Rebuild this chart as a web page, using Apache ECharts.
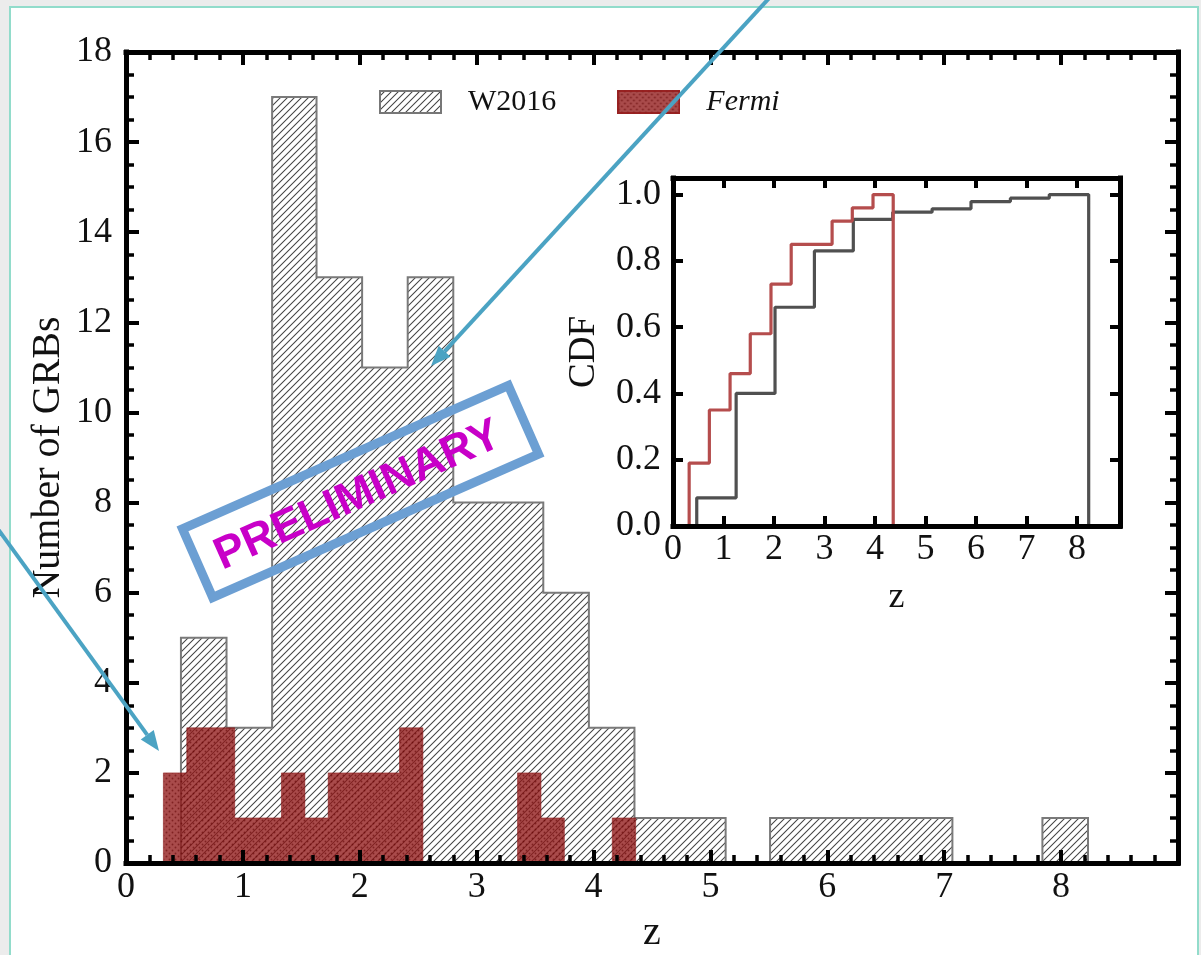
<!DOCTYPE html>
<html>
<head>
<meta charset="utf-8">
<script src="https://cdn.jsdelivr.net/npm/echarts@6/dist/echarts.min.js"></script>
<style>
html,body{margin:0;padding:0;background:#ececec;}
#chart{width:1201px;height:955px;}
</style>
</head>
<body>
<div id="chart"></div>
<script>
// ---------- data ----------
// Main histogram: bin edges (z) and counts
const w2016Edges  = [0.47,0.86,1.25,1.63,2.02,2.41,2.80,3.19,3.57,3.96,4.35,4.74,5.13,5.51,5.90,6.29,6.68,7.07,7.45,7.84,8.23];
const w2016Counts = [5,3,17,13,11,13,8,8,6,3,1,1,0,1,1,1,1,0,0,1];
const fermiEdges  = [0.32,0.52,0.72,0.93,1.13,1.33,1.53,1.73,1.94,2.14,2.34,2.54,2.74,2.95,3.15,3.35,3.55,3.75,3.96,4.16,4.36];
const fermiCounts = [2,3,3,1,1,2,1,2,2,2,3,0,0,0,0,2,1,0,0,1];
// Inset: cumulative distributions
const w2016CdfEdges = [0.47,1.25,2.02,2.80,3.57,4.35,5.13,5.90,6.68,7.45,8.23];
const w2016Cdf      = [0.085,0.40,0.66,0.83,0.925,0.947,0.957,0.979,0.989,1.00];
const fermiCdfEdges = [0.32,0.72,1.13,1.53,1.94,2.34,2.74,3.15,3.55,3.96,4.36];
const fermiCdf      = [0.19,0.35,0.46,0.58,0.73,0.85,0.85,0.92,0.96,1.00];
const seriesNames = ['W2016', 'Fermi'];
const mainX = {min: 0, max: 9, interval: 1};
const mainY = {min: 0, max: 18, interval: 2};
const insetX = {min: 0, max: 8.85, interval: 1};
const insetY = {min: 0, max: 1.05, interval: 0.2};

// ---------- helpers ----------
function stepPath(edges, vals) {
  const pts = [[edges[0], 0]];
  for (let i = 0; i < vals.length; i++) {
    pts.push([edges[i], vals[i]]);
    pts.push([edges[i + 1], vals[i]]);
  }
  pts.push([edges[edges.length - 1], 0]);
  return pts;
}
function hatchTile() {
  const s = 7, c = document.createElement('canvas');
  c.width = s; c.height = s;
  const g = c.getContext('2d');
  g.strokeStyle = '#444'; g.lineWidth = 1.05;
  g.beginPath();
  g.moveTo(0, s); g.lineTo(s, 0);
  g.moveTo(-1, 1); g.lineTo(1, -1);
  g.moveTo(s - 1, s + 1); g.lineTo(s + 1, s - 1);
  g.stroke();
  return c;
}
function dotTile() {
  const s = 6, c = document.createElement('canvas');
  c.width = s; c.height = s;
  const g = c.getContext('2d');
  g.fillStyle = 'rgba(145,24,24,0.78)';
  g.fillRect(0, 0, s, s);
  g.fillStyle = 'rgba(95,0,0,0.55)';
  g.beginPath(); g.arc(1.5, 1.5, 0.95, 0, Math.PI * 2); g.fill();
  g.beginPath(); g.arc(4.5, 4.5, 0.95, 0, Math.PI * 2); g.fill();
  return c;
}
const hatchC = hatchTile();
const dotC = dotTile();
function iconW2016() {
  const c = document.createElement('canvas'); c.width = 63; c.height = 24;
  const g = c.getContext('2d');
  g.fillStyle = '#fff'; g.fillRect(0, 0, 63, 24);
  g.fillStyle = g.createPattern(hatchC, 'repeat'); g.fillRect(0, 0, 63, 24);
  g.strokeStyle = '#777'; g.lineWidth = 2; g.strokeRect(1, 1, 61, 22);
  return c.toDataURL();
}
function iconFermi() {
  const c = document.createElement('canvas'); c.width = 63; c.height = 24;
  const g = c.getContext('2d');
  g.fillStyle = '#fff'; g.fillRect(0, 0, 63, 24);
  g.fillStyle = g.createPattern(dotC, 'repeat'); g.fillRect(0, 0, 63, 24);
  g.strokeStyle = 'rgba(150,30,30,0.9)'; g.lineWidth = 2; g.strokeRect(1, 1, 61, 22);
  return c.toDataURL();
}
function arrow(x1, y1, x2, y2, color) {
  const dx = x2 - x1, dy = y2 - y1, L = Math.hypot(dx, dy);
  const ux = dx / L, uy = dy / L, px = -uy, py = ux;
  const hl = 20, hw = 8;
  const bx = x2 - ux * hl, by = y2 - uy * hl;
  return [
    {type: 'line', z: 100, shape: {x1: x1, y1: y1, x2: bx, y2: by}, style: {stroke: color, lineWidth: 4}},
    {type: 'polygon', z: 100, shape: {points: [[x2, y2], [bx + px * hw, by + py * hw], [bx - px * hw, by - py * hw]]}, style: {fill: color}}
  ];
}

const serif = 'Liberation Serif';
const black = '#000';
function frameAxis(extra) {
  return Object.assign({
    type: 'value',
    z: 10,
    splitLine: {show: false},
    axisLine: {show: true, onZero: false, lineStyle: {color: black, width: 5, cap: 'square'}},
    axisTick: {show: true, inside: true, length: 13, lineStyle: {color: black, width: 4}},
    axisLabel: {show: false},
    nameMoveOverlap: false
  }, extra);
}
const mainLabel = {show: true, fontFamily: serif, fontSize: 36, color: '#111'};

const chart = echarts.init(document.getElementById('chart'), null, {renderer: 'canvas'});
const option = {
  animation: false,
  backgroundColor: 'transparent',
  grid: [
    {left: 126, top: 52, width: 1052, height: 811, show: false, containLabel: false, outerBoundsMode: 'none'},
    {left: 673, top: 178, width: 447, height: 348, show: true, backgroundColor: '#fff', borderWidth: 0,
      containLabel: false, outerBoundsMode: 'none'}
  ],
  legend: {
    left: 374, top: 82, itemWidth: 63, itemHeight: 24, itemGap: 61,
    selectedMode: false,
    data: [
      {name: seriesNames[0], icon: 'image://' + iconW2016()},
      {name: seriesNames[1], icon: 'image://' + iconFermi()}
    ],
    formatter: n => n === 'Fermi' ? '{it|' + n + '}' : '{n|' + n + '}',
    textStyle: {
      fontFamily: serif, fontSize: 30, color: '#111',
      rich: {
        n: {fontFamily: serif, fontSize: 30, color: '#111', padding: [0, 0, 0, 21]},
        it: {fontFamily: serif, fontSize: 30, color: '#111', fontStyle: 'italic', padding: [0, 0, 0, 21]}
      }
    }
  },
  xAxis: [
    frameAxis({gridIndex: 0, position: 'bottom', min: mainX.min, max: mainX.max, interval: mainX.interval,
      minorTick: {show: true, splitNumber: 5, length: 8, lineStyle: {color: black, width: 3.5}},
      axisLabel: Object.assign({}, mainLabel, {margin: 7, formatter: v => v >= mainX.max ? '' : String(v)}),
      name: 'z', nameLocation: 'middle', nameGap: 50,
      nameTextStyle: {fontFamily: serif, fontSize: 40, color: '#111'}}),
    frameAxis({gridIndex: 0, position: 'top', min: mainX.min, max: mainX.max, interval: mainX.interval,
      minorTick: {show: true, splitNumber: 5, length: 8, lineStyle: {color: black, width: 3.5}}}),
    frameAxis({gridIndex: 1, position: 'bottom', min: insetX.min, max: insetX.max, interval: insetX.interval,
      axisTick: {show: true, inside: true, length: 10, lineStyle: {color: black, width: 4}},
      axisLabel: {show: true, fontFamily: serif, fontSize: 36, color: '#111', margin: 6,
        formatter: v => Number.isInteger(v) ? String(v) : ''},
      name: 'z', nameLocation: 'middle', nameGap: 54,
      nameTextStyle: {fontFamily: serif, fontSize: 36, color: '#111'}}),
    frameAxis({gridIndex: 1, position: 'top', min: insetX.min, max: insetX.max, interval: insetX.interval,
      axisTick: {show: true, inside: true, length: 10, lineStyle: {color: black, width: 4}}})
  ],
  yAxis: [
    frameAxis({gridIndex: 0, position: 'left', min: mainY.min, max: mainY.max, interval: mainY.interval,
      minorTick: {show: true, splitNumber: 4, length: 8, lineStyle: {color: black, width: 3.5}},
      axisLabel: Object.assign({}, mainLabel, {margin: 14}),
      name: 'Number of GRBs', nameLocation: 'middle', nameGap: 58, nameRotate: 90,
      nameTextStyle: {fontFamily: serif, fontSize: 40, color: '#111'}}),
    frameAxis({gridIndex: 0, position: 'right', min: mainY.min, max: mainY.max, interval: mainY.interval,
      minorTick: {show: true, splitNumber: 4, length: 8, lineStyle: {color: black, width: 3.5}}}),
    frameAxis({gridIndex: 1, position: 'left', min: insetY.min, max: insetY.max, interval: insetY.interval,
      axisTick: {show: true, inside: true, length: 10, lineStyle: {color: black, width: 4}},
      axisLabel: {show: true, fontFamily: serif, fontSize: 36, color: '#111', margin: 12,
        formatter: v => Math.abs(v * 5 - Math.round(v * 5)) < 1e-6 ? v.toFixed(1) : ''},
      name: 'CDF', nameLocation: 'middle', nameGap: 70, nameRotate: 90,
      nameTextStyle: {fontFamily: serif, fontSize: 37, color: '#111'}}),
    frameAxis({gridIndex: 1, position: 'right', min: insetY.min, max: insetY.max, interval: insetY.interval,
      axisTick: {show: true, inside: true, length: 10, lineStyle: {color: black, width: 4}}})
  ],
  series: [
    {
      name: seriesNames[0], type: 'custom', xAxisIndex: 0, yAxisIndex: 0, z: 2,
      data: [[0, 0]],
      renderItem: (params, api) => {
        const pts = stepPath(w2016Edges, w2016Counts).map(p => api.coord(p));
        return {type: 'group', children: [
          {type: 'polygon', shape: {points: pts}, style: {fill: {image: hatchC, repeat: 'repeat'}}},
          {type: 'polyline', shape: {points: pts}, style: {fill: null, stroke: '#7a7a7a', lineWidth: 2}}
        ]};
      }
    },
    {
      name: seriesNames[1], type: 'custom', xAxisIndex: 0, yAxisIndex: 0, z: 3,
      data: [[0, 0]],
      renderItem: (params, api) => {
        const pts = stepPath(fermiEdges, fermiCounts).map(p => api.coord(p));
        return {type: 'polygon', shape: {points: pts},
          style: {fill: {image: dotC, repeat: 'repeat'}, stroke: 'rgba(140,25,25,0.55)', lineWidth: 1}};
      }
    },
    {
      name: 'W2016 CDF', type: 'line', xAxisIndex: 2, yAxisIndex: 2, z: 4,
      data: stepPath(w2016CdfEdges, w2016Cdf), showSymbol: false, symbol: 'none',
      lineStyle: {color: '#505050', width: 3.2}
    },
    {
      name: 'Fermi CDF', type: 'line', xAxisIndex: 2, yAxisIndex: 2, z: 5,
      data: stepPath(fermiCdfEdges, fermiCdf), showSymbol: false, symbol: 'none',
      lineStyle: {color: '#b54d4d', width: 3.2}
    }
  ],
  graphic: [
    {type: 'rect', z: -10, shape: {x: 10, y: 7, width: 1188, height: 960},
      style: {fill: '#fff', stroke: '#92dccb', lineWidth: 2}},
    {type: 'rect', z: 90, x: 360.5, y: 491.5, rotation: 23.75 * Math.PI / 180,
      shape: {x: -178, y: -37.5, width: 356, height: 75},
      style: {fill: 'none', stroke: '#6c9fd3', lineWidth: 9}},
    {type: 'text', z: 91, x: 358, y: 496, rotation: 24 * Math.PI / 180,
      style: {text: 'PRELIMINARY', fontFamily: 'Liberation Sans', fontWeight: 'bold', fontSize: 45,
        fill: '#c800c8', align: 'center', verticalAlign: 'middle'}},
    ...arrow(772, -5, 431, 366, '#4ba3c3'),
    ...arrow(-5, 525, 159, 751, '#4ba3c3')
  ]
};
chart.setOption(option);
</script>
</body>
</html>
